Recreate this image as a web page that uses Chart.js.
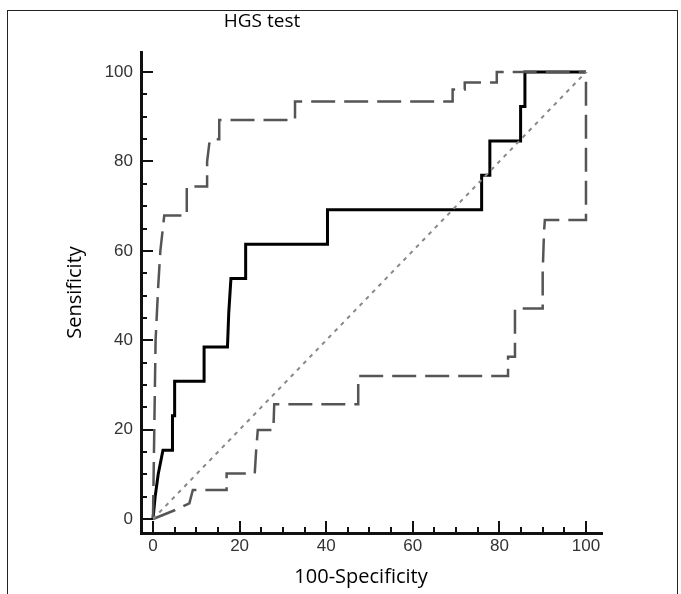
<!DOCTYPE html>
<html>
<head>
<meta charset="utf-8">
<script src="https://cdn.jsdelivr.net/npm/chart.js@4"></script>
<style>
  html, body { margin:0; padding:0; background:#fff; }
  #wrap { position:relative; width:681px; height:594px; overflow:hidden; }
  #c { position:absolute; left:0; top:0; }
  #frame { position:absolute; left:7px; top:10px; width:669px; height:620px; border:1px solid #222; pointer-events:none; }
</style>
</head>
<body>
<div id="wrap">
  <canvas id="c" width="681" height="594"></canvas>
  <div id="frame"></div>
</div>
<script>
// ROC curve (solid)
const rocX = [0, 0.5, 1.2, 2.3, 4.5, 4.5, 5.0, 5.0, 11.8, 11.8, 17.2, 17.5, 18.0, 21.4, 21.4, 40.3, 40.3, 75.9, 75.9, 77.8, 77.8, 84.9, 84.9, 85.9, 85.9, 100];
const rocY = [0, 5.0, 10.0, 15.4, 15.4, 23.1, 23.1, 30.8, 30.8, 38.5, 38.5, 46.2, 53.8, 53.8, 61.5, 61.5, 69.2, 69.2, 76.9, 76.9, 84.6, 84.6, 92.3, 92.3, 100, 100];
// upper confidence bound (dashed)
const upperX = [0, 0.3, 0.6, 1.2, 1.7, 2.6, 7.8, 7.8, 12.5, 12.5, 13.0, 13.5, 15.3, 15.3, 32.8, 32.8, 69.2, 69.2, 72.0, 72.0, 79.4, 79.4, 100];
const upperY = [0, 20.0, 40.0, 52.0, 60.0, 67.9, 67.9, 74.4, 74.4, 80.0, 84.0, 85.0, 85.0, 89.3, 89.3, 93.4, 93.4, 96.1, 96.1, 97.7, 97.7, 100, 100];
// lower confidence bound (dashed)
const lowerX = [0, 2.3, 5.6, 8.4, 9.2, 17.0, 17.0, 23.5, 23.8, 24.2, 27.8, 28.0, 47.4, 47.4, 82.0, 82.0, 83.6, 83.6, 90.0, 90.0, 90.3, 90.5, 100, 100];
const lowerY = [0, 0.9, 2.2, 3.5, 6.5, 6.5, 10.2, 10.2, 15.0, 19.9, 19.9, 25.7, 25.7, 32.0, 32.0, 36.3, 36.3, 47.1, 47.1, 55.0, 64.0, 66.9, 66.9, 100];
// reference diagonal
const diagX = [0, 100];
const diagY = [0, 100];
// axis tick labels
const xTickLabels = [0, 20, 40, 60, 80, 100];
const yTickLabels = [0, 20, 40, 60, 80, 100];
const minorTicks = [0,5,10,15,20,25,30,35,40,45,50,55,60,65,70,75,80,85,90,95,100];

const pts = (xs, ys) => xs.map((x, i) => ({x: x, y: ys[i]}));

const tickPlugin = {
  id: 'tickMarks',
  afterDraw(chart) {
    const ctx = chart.ctx;
    const xs = chart.scales.x, ys = chart.scales.y;
    const base = chart.chartArea.bottom, left = chart.chartArea.left;
    ctx.save();
    ctx.strokeStyle = '#111';
    ctx.lineWidth = 2;
    minorTicks.forEach(v => {
      const len = (v % 20 === 0) ? 12 : 6;
      const px = Math.round(xs.getPixelForValue(v));
      ctx.beginPath(); ctx.moveTo(px, base); ctx.lineTo(px, base - len); ctx.stroke();
      const py = Math.round(ys.getPixelForValue(v));
      ctx.beginPath(); ctx.moveTo(left, py); ctx.lineTo(left + len, py); ctx.stroke();
    });
    ctx.fillStyle = '#000';
    ctx.textAlign = 'center';
    ctx.textBaseline = 'middle';
    ctx.font = '19px "Open Sans"';
    ctx.fillText('HGS test', 262, 22);
    ctx.font = '20px "Open Sans"';
    ctx.fillText('100-Specificity', 361, 577);
    ctx.restore();
  }
};

new Chart(document.getElementById('c'), {
  type: 'line',
  data: {
    datasets: [
      { data: pts(diagX, diagY), borderColor: '#888', borderWidth: 2, borderDash: [4, 5], pointRadius: 0, fill: false },
      { data: pts(upperX, upperY), borderColor: '#555', borderWidth: 2.5, borderDash: [24, 9], pointRadius: 0, fill: false },
      { data: pts(lowerX, lowerY), borderColor: '#555', borderWidth: 2.5, borderDash: [24, 9], pointRadius: 0, fill: false },
      { data: pts(rocX, rocY), borderColor: '#000', borderWidth: 3, pointRadius: 0, fill: false }
    ]
  },
  options: {
    responsive: false,
    animation: false,
    events: [],
    layout: { padding: { top: 52, right: 79, left: 0, bottom: 0 } },
    plugins: { legend: { display: false }, tooltip: { enabled: false }, title: { display: false } },
    elements: { line: { tension: 0 } },
    scales: {
      x: {
        type: 'linear', min: -2.77, max: 103.7,
        afterFit: s => { s.height = 61; },
        afterBuildTicks: s => { s.ticks = xTickLabels.map(v => ({ value: v })); },
        ticks: { autoSkip: false, maxRotation: 0, padding: 3, color: '#333', font: { family: 'Liberation Sans', size: 17 } },
        grid: { display: false, drawTicks: false },
        border: { display: true, color: '#111', width: 3 },
        title: { display: false }
      },
      y: {
        type: 'linear', min: -3.13, max: 104.5,
        afterFit: s => { s.width = 141; },
        afterBuildTicks: s => { s.ticks = yTickLabels.map(v => ({ value: v })); },
        ticks: { autoSkip: false, padding: 8, color: '#333', font: { family: 'Liberation Sans', size: 17 } },
        grid: { display: false, drawTicks: false },
        border: { display: true, color: '#111', width: 3 },
        title: { display: true, text: 'Sensificity', color: '#000', font: { family: 'Open Sans', size: 20 }, padding: { top: 63, bottom: 0 } }
      }
    }
  },
  plugins: [tickPlugin]
});
</script>
</body>
</html>
